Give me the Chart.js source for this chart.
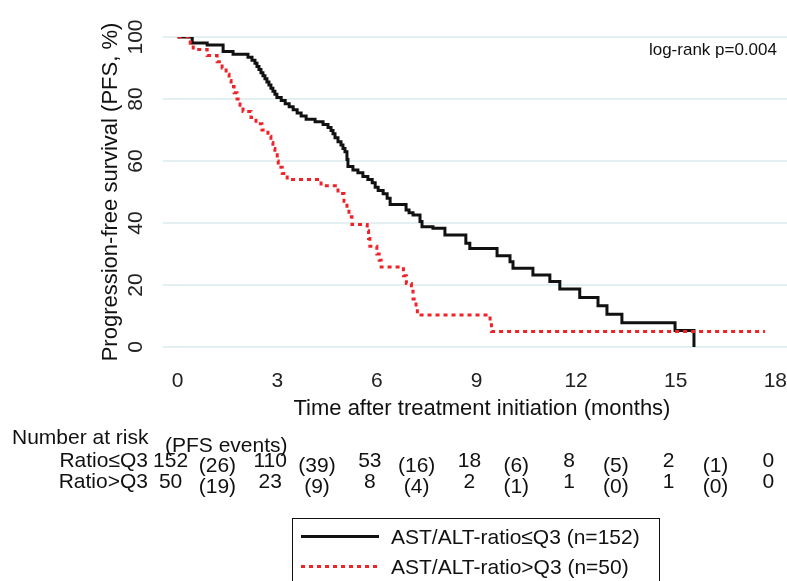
<!DOCTYPE html>
<html>
<head>
<meta charset="utf-8">
<script src="https://cdn.jsdelivr.net/npm/chart.js@4/dist/chart.umd.min.js"></script>
<style>
  body { margin: 0; background: #fff; overflow: hidden; }
  #wrap { position: relative; width: 787px; height: 581px; overflow: hidden;
          font-family: "Liberation Sans", Arial, sans-serif; color: #111; }
  #chart { position: absolute; left: 0; top: 0; }
  .t { position: absolute; font-size: 21px; line-height: 24px; white-space: nowrap; }
  .c { transform: translateX(-50%); }
  .r { transform: translateX(-100%); }
  #logrank { position: absolute; right: 10px; top: 40px; font-size: 17px; line-height: 19px; }
  #legend { position: absolute; left: 292px; top: 518px; width: 368px; height: 90px;
            border: 1.5px solid #111; box-sizing: border-box; }
  .swatch { position: absolute; left: 8px; width: 78px; height: 3px; }
</style>
</head>
<body>
<div id="wrap">
  <canvas id="chart" width="809" height="581"></canvas>
  <div id="logrank">log-rank p=0.004</div>
  <div id="table"></div>
  <div id="legend"></div>
</div>
<script>
// Kaplan-Meier steps: time (months) and PFS (%) after each drop
const blackTime = [0, 0.44, 0.89, 1.37, 1.67, 2.12, 2.24, 2.33, 2.39, 2.45, 2.51, 2.57, 2.63, 2.69, 2.75,
  2.81, 2.87, 2.93, 2.99, 3.12, 3.24, 3.36, 3.48, 3.60, 3.72, 3.87, 4.14, 4.38, 4.53, 4.62, 4.68, 4.74,
  4.83, 4.92, 4.98, 5.04, 5.10, 5.13, 5.28, 5.43, 5.58, 5.73, 5.86, 5.95, 6.04, 6.19, 6.31, 6.40, 6.88,
  6.97, 7.09, 7.30, 7.36, 7.69, 8.05, 8.68, 8.80, 9.62, 10.01, 10.10, 10.70, 11.21, 11.51, 12.11, 12.66,
  12.93, 13.38, 14.98, 15.55]
const blackSurv = [100, 98.1, 97.4, 95.3, 94.4, 93.5, 92.5, 91.5, 90.5, 89.5, 88.5, 87.5, 86.5, 85.5, 84.5,
  83.5, 82.5, 81.5, 80.5, 79.5, 78.5, 77.5, 76.5, 75.5, 74.5, 73.5, 72.7, 71.8, 70.8, 69.8, 68.8, 67.5,
  66.2, 65.2, 64, 63, 60.5, 58.2, 57.1, 56.2, 55, 54, 53, 51.5, 50.5, 49.4, 48, 46, 44.2,
  43.3, 42.6, 40.5, 38.8, 38.3, 36.1, 33.5, 31.8, 29.4, 27.5, 25.4, 23.2, 21.1, 18.7, 16, 13.3,
  10.6, 7.8, 5.3, 0]

const redTime = [0, 0.38, 0.47, 0.89, 1.19, 1.34, 1.46, 1.55, 1.61, 1.70, 1.79, 1.88, 1.97, 2.21, 2.36,
  2.54, 2.72, 2.81, 2.87, 2.93, 3.00, 3.03, 3.15, 3.30, 4.32, 4.83, 5.01, 5.10, 5.16, 5.25, 5.71, 5.75,
  5.79, 6.00, 6.07, 6.13, 6.80, 6.89, 7.04, 7.09, 7.18, 7.22, 9.41, 9.45, 17.69]
const redSurv = [100, 98, 96, 94, 92, 90, 88, 86, 84, 82, 80, 78, 76, 74, 72,
  70, 68, 66, 64, 62, 60, 58, 56, 54, 52, 49.5, 47, 44.5, 42, 39.5, 37.5, 35,
  32.5, 30, 28, 25.8, 23, 20.5, 18, 15.5, 13, 10.3, 7.7, 5, 5]

const seriesNames = ['AST/ALT-ratio≤Q3 (n=152)', 'AST/ALT-ratio>Q3 (n=50)']
const xTicks = [0, 3, 6, 9, 12, 15, 18]

// number-at-risk table
const riskTimes = [0, 3, 6, 9, 12, 15, 18]
const rowNames = ['Ratio≤Q3', 'Ratio>Q3']
const riskLow = [152, 110, 53, 18, 8, 2, 0]
const eventsLow = [26, 39, 16, 6, 5, 1]
const riskHigh = [50, 23, 8, 2, 1, 1, 0]
const eventsHigh = [19, 9, 4, 1, 0, 0]

const BLACK = '#111111'
const RED = '#ee2227'
const FONT = '"Liberation Sans", Arial, sans-serif'

function toPoints(times, surv) {
  return times.map((t, i) => ({ x: t, y: surv[i] }))
}

// note: chart.js counts ticks.padding twice when sizing an axis, the title
// paddings below make up for it so the plot area lands where the picture has it.
// The canvas is a little wider than the page so the grid runs off the right edge.
const chart = new Chart(document.getElementById('chart'), {
  type: 'line',
  data: {
    datasets: [
      {
        label: seriesNames[0], data: toPoints(blackTime, blackSurv),
        borderColor: BLACK, borderWidth: 3, stepped: 'before', pointRadius: 0,
        borderCapStyle: 'butt', order: 2
      },
      {
        label: seriesNames[1], data: toPoints(redTime, redSurv),
        borderColor: RED, borderWidth: 3, borderDash: [4, 4], stepped: 'before', pointRadius: 0,
        borderCapStyle: 'butt', order: 1
      }
    ]
  },
  options: {
    responsive: false,
    animation: false,
    devicePixelRatio: 1,
    layout: { padding: { left: 93.8, top: 37, right: 0, bottom: 154.8 } },
    plugins: { legend: { display: false }, tooltip: { enabled: false } },
    scales: {
      x: {
        type: 'linear', min: -0.44, max: 18.77,
        afterBuildTicks: axis => { axis.ticks = xTicks.map(v => ({ value: v })) },
        grid: { display: false, drawTicks: false },
        border: { display: false },
        ticks: { font: { family: FONT, size: 21 }, color: '#222', padding: 22, maxRotation: 0 },
        title: {
          display: true, text: 'Time after treatment initiation (months)',
          font: { family: FONT, size: 22 }, color: '#111', padding: { top: -20.4, bottom: 4 }
        }
      },
      y: {
        min: 0, max: 100,
        grid: { color: '#e4eff1', lineWidth: 2, drawTicks: false },
        border: { display: false },
        ticks: {
          stepSize: 20, minRotation: 90, crossAlign: 'center', padding: 9.5,
          font: { family: FONT, size: 21 }, color: '#222'
        },
        title: {
          display: true, text: 'Progression-free survival (PFS, %)',
          font: { family: FONT, size: 22 }, color: '#111', padding: { top: 4, bottom: -5.4 }
        }
      }
    }
  }
})

// risk table laid out on the x scale
const xs = chart.scales.x
const table = document.getElementById('table')
function addText(text, left, top, cls) {
  const d = document.createElement('div')
  d.className = 't ' + (cls || '')
  d.textContent = text
  d.style.left = left + 'px'
  d.style.top = top + 'px'
  table.appendChild(d)
}
addText('Number at risk', 12, 425)
addText('(PFS events)', 165, 433)
const rows = [[riskLow, eventsLow], [riskHigh, eventsHigh]]
const rowTops = [448, 469]
rows.forEach(([risk, events], r) => {
  const top = rowTops[r]
  addText(rowNames[r], 148, top, 'r')
  risk.forEach((n, i) => addText(String(n), xs.getPixelForValue(riskTimes[i]) - 7, top, 'c'))
  events.forEach((n, i) => {
    const mid = (riskTimes[i] + riskTimes[i + 1]) / 2
    addText('(' + n + ')', xs.getPixelForValue(mid) - 10, top + 5, 'c')
  })
})

// legend box
const legend = document.getElementById('legend')
const legendTops = [17.5, 47.5]
seriesNames.forEach((name, i) => {
  const sw = document.createElement('div')
  sw.className = 'swatch'
  sw.style.top = (legendTops[i] - 1.5) + 'px'
  sw.style.background = i === 0 ? BLACK
    : 'repeating-linear-gradient(90deg, ' + RED + ' 0 4px, transparent 4px 8px)'
  legend.appendChild(sw)
  const tx = document.createElement('div')
  tx.className = 't'
  tx.textContent = name
  tx.style.left = '98px'
  tx.style.top = (legendTops[i] - 12) + 'px'
  legend.appendChild(tx)
})
</script>
</body>
</html>
